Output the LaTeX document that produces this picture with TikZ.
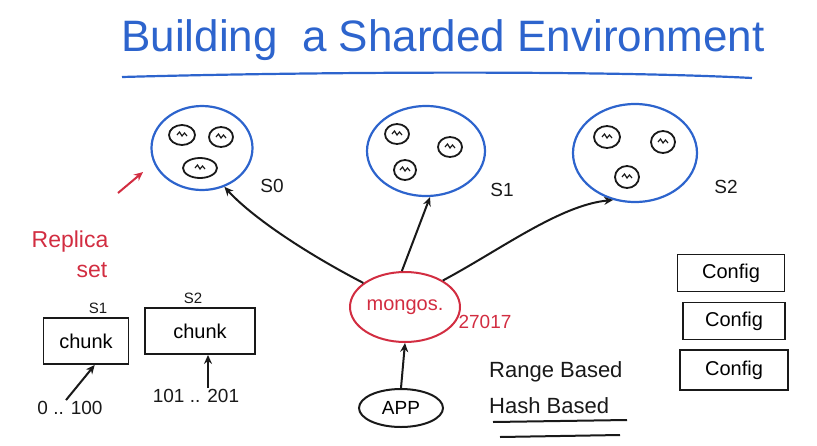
\documentclass[tikz,border=0pt]{standalone}
\usepackage{fontspec}
\setmainfont{Liberation Sans}
\usetikzlibrary{arrows.meta,shapes.geometric}
\definecolor{penblue}{RGB}{45,100,205}
\definecolor{penred}{RGB}{210,45,65}
\definecolor{penblack}{RGB}{25,25,25}
\tikzset{
  shard/.style={draw=penblue, line width=2.2pt, ellipse},
  member/.style={draw=penblack, line width=1.8pt, ellipse, inner sep=0pt},
  ink/.style={penblack, line width=2pt},
  hand/.style={font=\fontsize{19}{22}\selectfont, text=penblack, inner sep=1pt},
  redhand/.style={font=\fontsize{19}{22}\selectfont, text=penred, inner sep=1pt},
  arr/.style={-{Stealth[length=9pt,width=8pt]}},
  boxed/.style={draw=penblack, line width=1.9pt, rectangle, anchor=center, font=\fontsize{20}{24}\selectfont},
}
\begin{document}
\begin{tikzpicture}[x=1pt,y=-1pt]
\useasboundingbox (0,0) rectangle (817,445);
% title
\node[text=penblue, font=\fontsize{44}{48}\selectfont, inner sep=0pt] (title) at (443,40) {Building\ \ a Sharded Environment};
\draw[penblue, line width=2.2pt] (122,77) .. controls (300,72) and (600,70) .. (752,78);
% shards
\node[shard, minimum width=101pt, minimum height=84pt] (s0) at (202,148) {};
\node[shard, minimum width=118pt, minimum height=90pt] (s1) at (426,151) {};
\node[shard, minimum width=124pt, minimum height=98pt] (s2) at (635,153) {};
\node[hand] (l0) at (272,186) {S0};
\node[hand] (l1) at (502,190) {S1};
\node[hand] (l2) at (726,187) {S2};
% members
\foreach \n/\x/\y/\w/\h in {a/182/135/26/20, b/221/137/24/20, c/200/168/34/20,
                            d/397/134/24/20, e/450/147/24/20, f/405/170/22/20,
                            g/607/137/26/22, h/663/142/24/22, i/627/177/24/22}{
  \node[member, minimum width=\w pt, minimum height=\h pt] (m\n) at (\x,\y) {};
  \draw[penblack, line width=1.2pt] ([xshift=-5pt]m\n.center) -- ++(2.5,-3) -- ++(2.5,4) -- ++(2.5,-3) -- ++(2.5,3);
}
% mongos
\node[draw=penred, line width=2pt, ellipse, minimum width=110pt, minimum height=70pt, text=penred, font=\fontsize{20}{24}\selectfont, inner sep=0pt] (mongos) at (405,307) {mongos.};
\node[redhand] (port) at (485,322) {27017};
% app
\node[draw=penblack, line width=2pt, ellipse, minimum width=84pt, minimum height=38pt, font=\fontsize{19}{22}\selectfont, inner sep=0pt] (app) at (401,408) {APP};
% connectors
\draw[ink, arr] (app.north) -- (mongos.south);
\draw[ink, arr] (mongos.150) .. controls (300,250) and (250,215) .. (s0.-60);
\draw[ink, arr] (mongos.95) -- (s1.-85);
\draw[ink, arr] (mongos.35) .. controls (500,250) and (560,205) .. (s2.-115);
% replica set label
\node[text=penred, font=\fontsize{23}{28}\selectfont, inner sep=1pt] (rs) at (70,242) {Replica};
\node[text=penred, font=\fontsize{23}{28}\selectfont, inner sep=1pt] (rs2) at (92,270) {set};
\coordinate (rsa) at (118,193);
\coordinate (rsb) at (143,172);
\draw[penred, line width=2pt, arr] (rsa) -- (rsb);
% chunks
\node[boxed, minimum width=85pt, minimum height=46pt] (c1) at (86,341) {chunk};
\node[boxed, minimum width=110pt, minimum height=46pt] (c2) at (200,331) {chunk};
\node[hand, font=\fontsize{15}{17}\selectfont] (c1l) at (98,308) {S1};
\node[hand, font=\fontsize{15}{17}\selectfont] (c2l) at (193,298) {S2};
\node[hand] (r1) at (70,408) {0 .. 100};
\node[hand] (r2) at (196,396) {101 .. 201};
\draw[ink, arr] ([xshift=-4pt]r1.north) -- (c1.-70);
\draw[ink, arr] ([xshift=12pt]r2.north) -- ([xshift=8pt]c2.south);
% range/hash
\node[hand, font=\fontsize{22}{26}\selectfont, anchor=west] (range) at (488,372) {Range Based};
\node[hand, font=\fontsize{22}{26}\selectfont, anchor=west] (hash) at (488,406) {Hash Based};
\draw[ink] (493,422) -- (627,420);
\draw[ink] (500,437) -- (620,435);
% config servers
\node[boxed, minimum width=107pt, minimum height=37pt] (cf1) at (731,273) {Config};
\node[boxed, minimum width=102pt, minimum height=37pt] (cf2) at (734,321) {Config};
\node[boxed, minimum width=108pt, minimum height=40pt] (cf3) at (734,370) {Config};
\end{tikzpicture}
\end{document}
